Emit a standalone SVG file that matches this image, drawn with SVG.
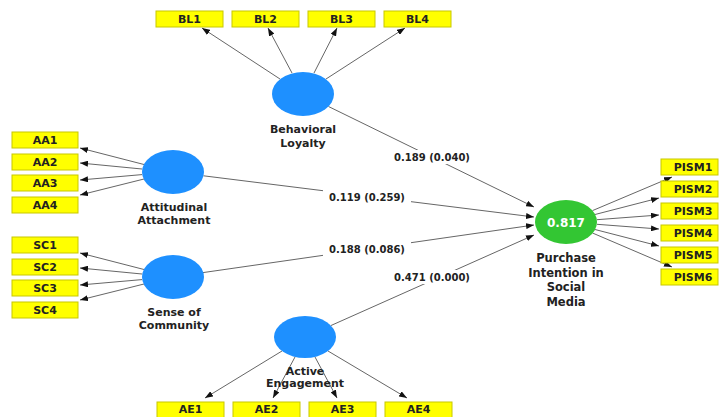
<svg xmlns="http://www.w3.org/2000/svg" width="719" height="417" viewBox="0 0 719 417">
<defs>
<marker id="ah" markerWidth="8" markerHeight="6" refX="8" refY="3" orient="auto" markerUnits="userSpaceOnUse">
<path d="M0,0 L8,3 L0,6 z" fill="#111"/>
</marker>
<style>
.ln{stroke:#666;stroke-width:1;fill:none;marker-end:url(#ah)}
.box{fill:#ffff00;stroke:#c8c800;stroke-width:1}
.bt{font-family:"DejaVu Sans",sans-serif;font-weight:bold;font-size:11px;fill:#222;text-anchor:middle}
.lv{fill:#1e90ff}
.nt{font-family:"DejaVu Sans",sans-serif;font-weight:bold;font-size:11px;fill:#222;text-anchor:middle}
.pl{font-family:"DejaVu Sans",sans-serif;font-weight:bold;font-size:10px;fill:#222;text-anchor:middle}
.bg{fill:#fff}
</style>
</defs>
<rect width="719" height="417" fill="#fff"/>

<g id="connectors">
<line class="ln" x1="280" y1="79" x2="202" y2="28"/>
<line class="ln" x1="292" y1="73" x2="268" y2="28"/>
<line class="ln" x1="314" y1="73" x2="337" y2="28"/>
<line class="ln" x1="326" y1="79" x2="405" y2="28"/>
<line class="ln" x1="144" y1="164.5" x2="80" y2="148"/>
<line class="ln" x1="142" y1="169" x2="80" y2="163"/>
<line class="ln" x1="142" y1="174.6" x2="80" y2="180"/>
<line class="ln" x1="144" y1="179" x2="80" y2="195"/>
<line class="ln" x1="144" y1="269.5" x2="80" y2="253"/>
<line class="ln" x1="142" y1="274" x2="80" y2="268"/>
<line class="ln" x1="142" y1="279.6" x2="80" y2="285"/>
<line class="ln" x1="144" y1="284" x2="80" y2="300"/>
<line class="ln" x1="282" y1="351" x2="205" y2="398"/>
<line class="ln" x1="295" y1="357" x2="273" y2="398"/>
<line class="ln" x1="315" y1="357" x2="337" y2="398"/>
<line class="ln" x1="328" y1="351" x2="407" y2="398"/>
<line class="ln" x1="592.5" y1="210.6" x2="672" y2="177"/>
<line class="ln" x1="595" y1="214.5" x2="659" y2="198"/>
<line class="ln" x1="597" y1="219.7" x2="659" y2="215"/>
<line class="ln" x1="597" y1="224.3" x2="659" y2="229"/>
<line class="ln" x1="595" y1="229.5" x2="659" y2="246"/>
<line class="ln" x1="592.5" y1="233" x2="672" y2="267"/>
<line class="ln" x1="328.5" y1="106.5" x2="534" y2="207"/>
<line class="ln" x1="203.5" y1="175.8" x2="534" y2="217"/>
<line class="ln" x1="203" y1="272.6" x2="534" y2="225"/>
<line class="ln" x1="331" y1="325.5" x2="534" y2="235"/>
<rect class="bg" x="388" y="150" width="88" height="14"/>
<text class="pl" x="432" y="161">0.189 (0.040)</text>
<rect class="bg" x="323" y="190" width="88" height="14"/>
<text class="pl" x="367" y="201">0.119 (0.259)</text>
<rect class="bg" x="323" y="242" width="88" height="14"/>
<text class="pl" x="367" y="253">0.188 (0.086)</text>
<rect class="bg" x="388" y="270" width="88" height="14"/>
<text class="pl" x="432" y="281">0.471 (0.000)</text>
</g>

<g id="BL">
<ellipse class="lv" cx="303" cy="94" rx="31" ry="22"/>
<text class="nt" x="303" y="133">Behavioral</text>
<text class="nt" x="303" y="147">Loyalty</text>
</g>
<g id="BL1"><rect class="box" x="156" y="11" width="67" height="16"/><text class="bt" x="189.5" y="23">BL1</text></g>
<g id="BL2"><rect class="box" x="232" y="11" width="67" height="16"/><text class="bt" x="265.5" y="23">BL2</text></g>
<g id="BL3"><rect class="box" x="308" y="11" width="67" height="16"/><text class="bt" x="341.5" y="23">BL3</text></g>
<g id="BL4"><rect class="box" x="384" y="11" width="67" height="16"/><text class="bt" x="417.5" y="23">BL4</text></g>

<g id="AA">
<ellipse class="lv" cx="173" cy="172" rx="31" ry="22"/>
<text class="nt" x="174" y="211">Attitudinal</text>
<text class="nt" x="174" y="224">Attachment</text>
</g>
<g id="AA1"><rect class="box" x="12" y="132" width="66" height="16"/><text class="bt" x="45" y="144">AA1</text></g>
<g id="AA2"><rect class="box" x="12" y="154" width="66" height="16"/><text class="bt" x="45" y="166">AA2</text></g>
<g id="AA3"><rect class="box" x="12" y="175" width="66" height="16"/><text class="bt" x="45" y="187">AA3</text></g>
<g id="AA4"><rect class="box" x="12" y="197" width="66" height="16"/><text class="bt" x="45" y="209">AA4</text></g>

<g id="SC">
<ellipse class="lv" cx="173" cy="277" rx="31" ry="22"/>
<text class="nt" x="174" y="316">Sense of</text>
<text class="nt" x="174" y="329">Community</text>
</g>
<g id="SC1"><rect class="box" x="12" y="237" width="66" height="16"/><text class="bt" x="45" y="249">SC1</text></g>
<g id="SC2"><rect class="box" x="12" y="259" width="66" height="16"/><text class="bt" x="45" y="271">SC2</text></g>
<g id="SC3"><rect class="box" x="12" y="280" width="66" height="16"/><text class="bt" x="45" y="292">SC3</text></g>
<g id="SC4"><rect class="box" x="12" y="302" width="66" height="16"/><text class="bt" x="45" y="314">SC4</text></g>

<g id="AE">
<ellipse class="lv" cx="305" cy="337" rx="31" ry="21"/>
<text class="nt" x="305" y="375">Active</text>
<text class="nt" x="305" y="387">Engagement</text>
</g>
<g id="AE1"><rect class="box" x="157" y="402" width="67" height="18"/><text class="bt" x="190.5" y="413">AE1</text></g>
<g id="AE2"><rect class="box" x="233" y="402" width="67" height="18"/><text class="bt" x="266.5" y="413">AE2</text></g>
<g id="AE3"><rect class="box" x="309" y="402" width="67" height="18"/><text class="bt" x="342.5" y="413">AE3</text></g>
<g id="AE4"><rect class="box" x="385" y="402" width="67" height="18"/><text class="bt" x="418.5" y="413">AE4</text></g>

<g id="PISM">
<ellipse cx="566" cy="222" rx="31" ry="22" fill="#33c633"/>
<text x="566" y="226.5" font-family="DejaVu Sans, sans-serif" font-weight="bold" font-size="12" fill="#fff" text-anchor="middle">0.817</text>
<g font-family="DejaVu Sans, sans-serif" font-weight="bold" font-size="11.5" fill="#222" text-anchor="middle">
<text x="566" y="262">Purchase</text>
<text x="566" y="277">Intention in</text>
<text x="566" y="291">Social</text>
<text x="566" y="306">Media</text>
</g>
</g>
<g id="PISM1"><rect class="box" x="661" y="159" width="57" height="16"/><text class="bt" x="693" y="171">PISM1</text></g>
<g id="PISM2"><rect class="box" x="661" y="181" width="57" height="16"/><text class="bt" x="693" y="193">PISM2</text></g>
<g id="PISM3"><rect class="box" x="661" y="203" width="57" height="16"/><text class="bt" x="693" y="215">PISM3</text></g>
<g id="PISM4"><rect class="box" x="661" y="225" width="57" height="16"/><text class="bt" x="693" y="237">PISM4</text></g>
<g id="PISM5"><rect class="box" x="661" y="247" width="57" height="16"/><text class="bt" x="693" y="259">PISM5</text></g>
<g id="PISM6"><rect class="box" x="661" y="269" width="57" height="16"/><text class="bt" x="693" y="281">PISM6</text></g>
</svg>
